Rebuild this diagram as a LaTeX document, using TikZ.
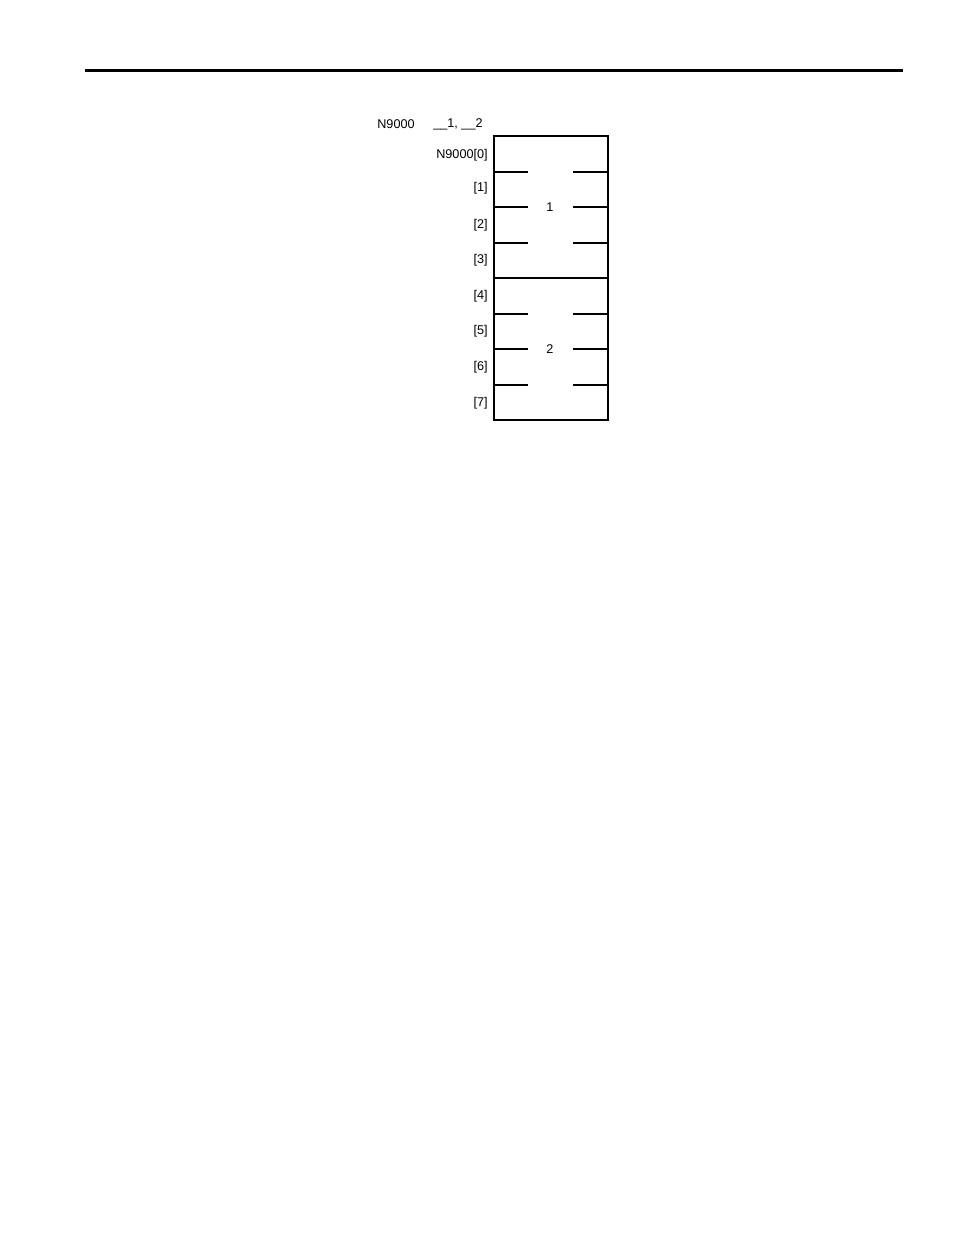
\documentclass[tikz,border=0pt]{standalone}
\usepackage{fontspec}
\setmainfont{Liberation Sans}
\tikzset{lbl/.style={font=\fontsize{7.2}{8}\selectfont, inner sep=0pt}}
\begin{document}
\begin{tikzpicture}[x=0.02cm,y=-0.02cm]
\useasboundingbox (0,0) rectangle (954,1235);
\draw[line width=1.7pt] (85,70) -- (903,70);
\node[lbl,anchor=west] (head) at (377,124) {N9000};
\node[lbl,anchor=west] (addr) at (433,124) {\_\_1, \_\_2};
\draw[line width=0.7pt] (494,136) rectangle (608,420);
\draw[line width=0.7pt] (494,278) -- (608,278);
\foreach \y in {172,207,243,314,349,385}
  {\draw[line width=0.7pt] (494,\y) -- (528,\y) (573,\y) -- (608,\y);}
\node[lbl] (one) at (550,207) {1};
\node[lbl] (two) at (550,349) {2};
\node[lbl,anchor=east] (r0) at (488,155) {N9000[0]};
\node[lbl,anchor=east] (r1) at (488,188) {[1]};
\node[lbl,anchor=east] (r2) at (488,225) {[2]};
\node[lbl,anchor=east] (r3) at (488,260) {[3]};
\node[lbl,anchor=east] (r4) at (488,296) {[4]};
\node[lbl,anchor=east] (r5) at (488,331) {[5]};
\node[lbl,anchor=east] (r6) at (488,367) {[6]};
\node[lbl,anchor=east] (r7) at (488,403) {[7]};
\end{tikzpicture}
\end{document}
